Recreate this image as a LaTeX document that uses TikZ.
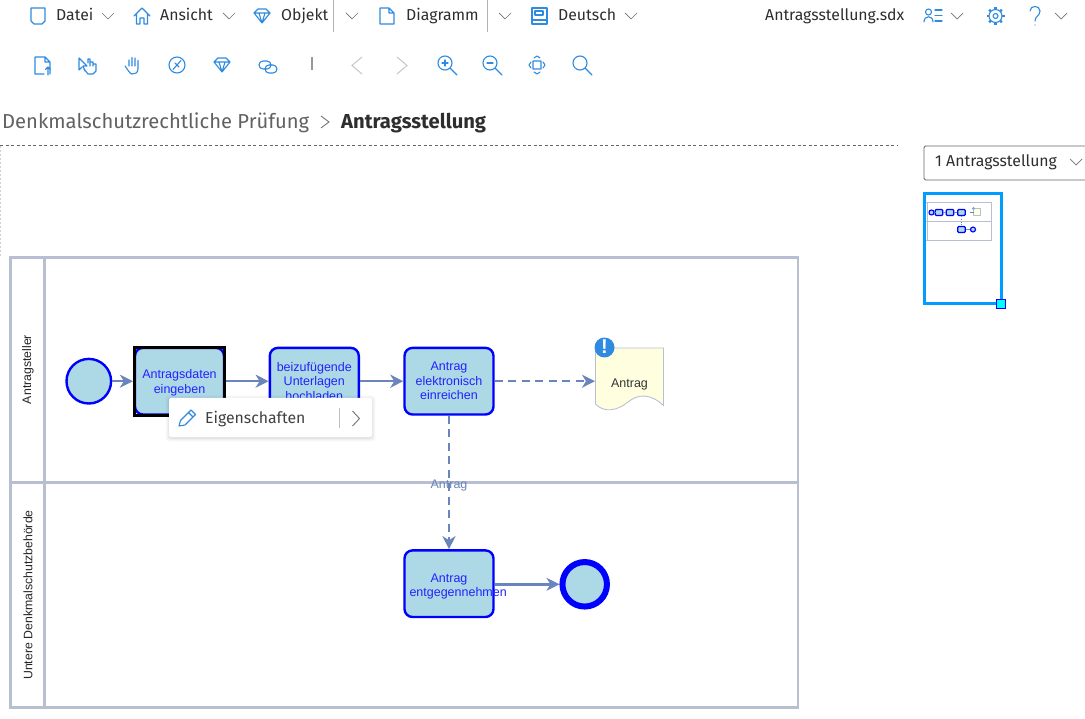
\documentclass[tikz,border=0pt]{standalone}
\usepackage{fontspec}
\usepackage{xcolor}
\setmainfont{Liberation Sans}
\newfontfamily\uifont{Fira Sans}
\usetikzlibrary{arrows.meta}
\definecolor{lanecol}{HTML}{B9BFD2}
\definecolor{flowcol}{HTML}{6A84BC}
\definecolor{taskfill}{HTML}{ADD8E6}
\definecolor{iconcol}{HTML}{2F8BE0}
\definecolor{uitext}{HTML}{2E2E2E}
\definecolor{thumbcol}{HTML}{009CFF}
\definecolor{handlecol}{HTML}{00FFFF}
\definecolor{docfill}{HTML}{FFFFE0}
\definecolor{tasktext}{HTML}{2222FF}
\newcommand{\chevdown}[2]{\draw[chev] (#1-6,#2-3) -- (#1,#2+3) -- (#1+6,#2-3);}
\begin{document}
\begin{tikzpicture}[
  x=1pt,y=-1pt,
  lane/.style={draw=lanecol, line width=2.2pt},
  chev/.style={draw=black!55, line width=0.7pt},
  icon/.style={draw=iconcol, line width=1.1pt, line join=round, line cap=round},
  menutext/.style={font=\uifont\fontsize{15.8}{18}\selectfont, text=uitext, inner sep=0pt, anchor=base west},
  task/.style={draw=blue, fill=taskfill, rounded corners=8pt, line width=2.4pt, minimum width=89pt, minimum height=66.6pt, inner sep=0pt, align=center, text=tasktext, font=\fontsize{12.5}{14.5}\selectfont},
  startev/.style={circle, draw=blue, fill=taskfill, line width=2.4pt, minimum size=44.6pt, inner sep=0pt},
  endev/.style={circle, draw=blue, fill=taskfill, line width=6pt, minimum size=44.5pt, inner sep=0pt},
  flow/.style={draw=flowcol, line width=2.4pt, -{Stealth[length=13pt,width=13pt,inset=4pt]}},
  dflow/.style={flow, dash pattern=on 8pt off 5.5pt},
  minitask/.style={draw=blue, fill=taskfill, rounded corners=1pt, line width=1.1pt, minimum width=7.5pt, minimum height=6pt, inner sep=0pt},
  minicirc/.style={circle, draw=blue, fill=taskfill, line width=1.1pt, minimum size=5pt, inner sep=0pt},
  miniflow/.style={draw=flowcol, line width=0.8pt}]
\useasboundingbox (0,0) rectangle (1085,719);
\fill[white] (0,0) rectangle (1085,719);

\foreach \i/\t/\x in {1/Datei/56,2/Ansicht/160,3/Objekt/281,4/Diagramm/406,5/Deutsch/558,6/Antragsstellung.sdx/765}
  \node[menutext] (menu\i) at (\x,21) {\t};
\foreach \x in {108,229,352,505,631,957,1061}
  \chevdown{\x}{16}
\foreach \x in {333,487}
  \draw[black!30, line width=0.7pt] (\x,0) -- (\x,32);
\draw[icon] (31,8) -- (45,8) -- (45,21) -- (42,24) -- (34,24) -- (31,21) -- cycle;
\draw[icon] (134,16) -- (142,8) -- (150,16) (136.5,14) -- (136.5,24) -- (140,24) -- (140,18) -- (144,18) -- (144,24) -- (147.5,24) -- (147.5,14);
\foreach \x/\y in {262/16,222/65}
  \draw[icon] (\x-8,\y-3) -- (\x-4,\y-7) -- (\x+4,\y-7) -- (\x+8,\y-3) -- (\x,\y+7) -- cycle (\x-8,\y-3) -- (\x+8,\y-3) (\x-3,\y-3) -- (\x,\y+7) -- (\x+3,\y-3);
\draw[icon] (380,8) -- (389,8) -- (394,13) -- (394,24) -- (380,24) -- cycle (389,8) -- (389,13) -- (394,13);
\draw[icon] (532,8) rectangle (547,24) (532,20) -- (547,20) (535,11) rectangle (543,15);
\draw[icon] (928.5,12) circle (3) (924,22) .. controls (924,15) and (933,15) .. (933,22);
\draw[icon] (935,10) -- (942,10) (935,15.5) -- (942,15.5) (935,21) -- (942,21);
\foreach \a in {0,45,...,315}
  \draw[icon, line width=2.4pt, line cap=butt] (995.5,16) ++(\a:6.5) -- ++(\a:2.5);
\draw[icon, fill=white] (995.5,16) circle (6.5);
\draw[icon] (995.5,16) circle (2.5);
\draw[icon] (1030,11) .. controls (1030,5) and (1040,5) .. (1040,11) .. controls (1040,16) and (1035,16) .. (1035,21) (1035,25) -- (1035,25.2);

\draw[icon] (35,57) -- (45,57) -- (50,62) -- (50,74) (35,57) -- (35,74) -- (44,74) (45,57) -- (45,62) -- (50,62) (48,75) -- (48,67) (45.5,69.5) -- (48,67) -- (50.5,69.5);
\draw[icon] (79,58) -- (87,66) -- (83,66) -- (85,71) (79,58) -- (79,70) -- (82,67);
\draw[icon] (88,63) -- (88,59) -- (90,59) -- (90,66) (90,62) -- (93,62) -- (93,66) (93,64) -- (96,64) -- (96,71) -- (93,74) -- (88,74) -- (84,69);
\draw[icon] (129,66) -- (129,60) (132,66) -- (132,57.5) (135,66) -- (135,58) (138,66) -- (138,60.5) (138,66) -- (138,69) .. controls (138,73) and (135,74) .. (132,74) .. controls (130,74) and (128,70) .. (125,66);
\draw[icon] (177,65) circle (8) (181,60.5) -- (173,69.5) (175,63) -- (179,67);
\draw[icon, rounded corners=4pt] (259,61) rectangle (271,69) (265,65) rectangle (277,73);
\draw[black!40, line width=1.4pt] (312,57) -- (312,70);
\draw[black!22, line width=1pt] (362,57) -- (352,65.5) -- (362,74) (397,57) -- (407,65.5) -- (397,74);
\foreach \x/\s in {447/1,492/0,582/2} {
  \draw[icon] (\x-2,63) circle (7) (\x+3,68) -- (\x+10,75);
  \ifnum\s<2 \draw[icon] (\x-5,63) -- (\x+1,63); \fi
  \ifnum\s=1 \draw[icon] (\x-2,60) -- (\x-2,66); \fi
}
\draw[icon] (533,61) rectangle (541,69) (534,58) -- (537,56) -- (540,58) (534,72) -- (537,74) -- (540,72) (531,62) -- (529,65) -- (531,68) (543,62) -- (545,65) -- (543,68);

\node[anchor=base west, inner sep=0pt, font=\uifont\fontsize{20.2}{23}\selectfont, text=black!62] (crumbparent) at (2,128.5) {Denkmalschutzrechtliche Prüfung};
\node[anchor=base west, inner sep=0pt, font=\uifont\fontsize{20.2}{23}\selectfont\bfseries, text=uitext] (crumbcur) at (341,128.5) {Antragsstellung};
\draw[chev, line width=0.9pt] (321,116) -- (329,122) -- (321,128);
\draw[black!60, line width=0.7pt, dash pattern=on 3pt off 2.5pt] (0,145.5) -- (897,145.5);
\draw[black!18, line width=0.7pt, dash pattern=on 2pt off 2pt] (0.5,146) -- (0.5,257);

\draw[draw=black!60, line width=0.8pt, rounded corners=1.5pt] (1090,146) -- (924,146) -- (924,180) -- (1090,180);
\node[menutext] (pagesel) at (935,167) {1 Antragsstellung};
\chevdown{1076}{162}

\draw[thumbcol, line width=2.8pt] (924.5,193.5) rectangle (1001.5,303.5);
\draw[lanecol, line width=0.7pt] (925.5,202.5) -- (991.5,202.5) -- (991.5,240.5) -- (925.5,240.5) (925.5,221.5) -- (991.5,221.5) (927.5,202.5) -- (927.5,240.5);
\node[minicirc] (ministart) at (931.5,212.5) {};
\foreach \i/\x in {1/939,2/950,3/961.5}
  \node[minitask] (mini\i) at (\x,212.5) {};
\node[minitask] (mini4) at (961.5,229.5) {};
\node[minicirc] (miniend) at (973,229.5) {};
\draw[lanecol, fill=docfill, line width=0.5pt] (973.5,208.5) rectangle (980,215.5);
\coordinate (minidoc) at (973.5,212.5);
\coordinate (minifrom) at (970,212.5);
\fill[iconcol!70] (973.5,208.5) circle (1.6);
\draw[miniflow] (ministart) -- (mini1);
\draw[miniflow] (mini1) -- (mini2);
\draw[miniflow] (mini2) -- (mini3);
\draw[miniflow] (minifrom) -- (minidoc);
\draw[miniflow, dotted] (mini3) -- (mini4);
\draw[miniflow] (mini4) -- (miniend);
\draw[blue, fill=handlecol, line width=0.7pt] (996.5,299.5) rectangle (1005.5,308.5);

\draw[lane] (10.5,257.5) rectangle (798,707.5);
\draw[lane] (44.5,257.5) -- (44.5,707.5);
\draw[lane] (10.5,482.5) -- (798,482.5);
\node[rotate=90, inner sep=0pt, font=\fontsize{12.3}{14}\selectfont, text=black!85] (laneone) at (28,369.5) {Antragsteller};
\node[rotate=90, inner sep=0pt, font=\fontsize{12.3}{14}\selectfont, text=black!85] (lanetwo) at (28,595) {Untere Denkmalschutzbehörde};

\node[startev] (start) at (88.8,381.2) {};
\node[task] (eingeben) at (179.5,381.2) {\rule{0pt}{12.5pt}Antragsdaten\\eingeben};
\node[task] (hochladen) at (314.3,381.2) {beizufügende\\Unterlagen\\hochladen};
\node[task] (einreichen) at (449,381.2) {Antrag\\elektronisch\\einreichen};
\node[task] (annehmen) at (449,583.7) {\rule{0pt}{14pt}Antrag\\\makebox[89pt][l]{\hspace*{5pt}entgegennehmen}};
\node[endev] (ende) at (584.7,584.3) {};
\node[draw=black, line width=3.2pt, minimum width=90pt, minimum height=68pt, inner sep=0pt] (auswahl) at (179.5,381.2) {};

\draw[fill=docfill, draw=lanecol, line width=0.9pt] (595.5,348) -- (663.5,348) -- (663.5,405.5) .. controls (650,393) and (638,394) .. (628,402) .. controls (617,411) and (604,413) .. (595.5,404) -- cycle;
\node[minimum width=68pt, minimum height=57pt, inner sep=0pt, font=\fontsize{12.5}{14}\selectfont, text=black!80] (antragdoc) at (629.5,384) {Antrag};
\fill[iconcol] (604.5,347.5) circle (10);
\node[inner sep=0pt, text=white, font=\fontsize{20}{20}\selectfont\bfseries] (badge) at (604.5,347) {!};

\coordinate (docin) at (595,381.2);
\draw[flow] (start) -- (auswahl);
\draw[flow] (auswahl) -- (hochladen);
\draw[flow] (hochladen) -- (einreichen);
\draw[dflow] (einreichen) -- (docin);
\draw[dflow] (einreichen) -- (annehmen);
\draw[flow] (annehmen.east |- ende) -- (ende);
\node[inner sep=0pt, font=\fontsize{12.5}{14}\selectfont, text=flowcol] (flowlabel) at (449,485.5) {Antrag};

\foreach \g/\o in {3.5/0.02,2.5/0.025,1.5/0.03,0.5/0.04}
  \fill[black, opacity=\o, rounded corners=3pt] (169-\g,398-\g+1) rectangle (372+\g,437+\g+1);
\node[fill=white, rounded corners=2pt, minimum width=203pt, minimum height=39pt, inner sep=0pt] (kontext) at (270.5,417.5) {};
\node[menutext, text=black!75] (eigenschaften) at (205,423.5) {Eigenschaften};
\draw[icon] (179,426) -- (180.5,420.5) -- (191,410) -- (195.5,414.5) -- (185,425) -- cycle (188.5,412.5) -- (193,417);
\draw[black!25, line width=0.7pt] (339.5,408) -- (339.5,428);
\draw[chev, line width=0.9pt] (352.5,411) -- (359.5,418.5) -- (352.5,426);
\end{tikzpicture}
\end{document}
